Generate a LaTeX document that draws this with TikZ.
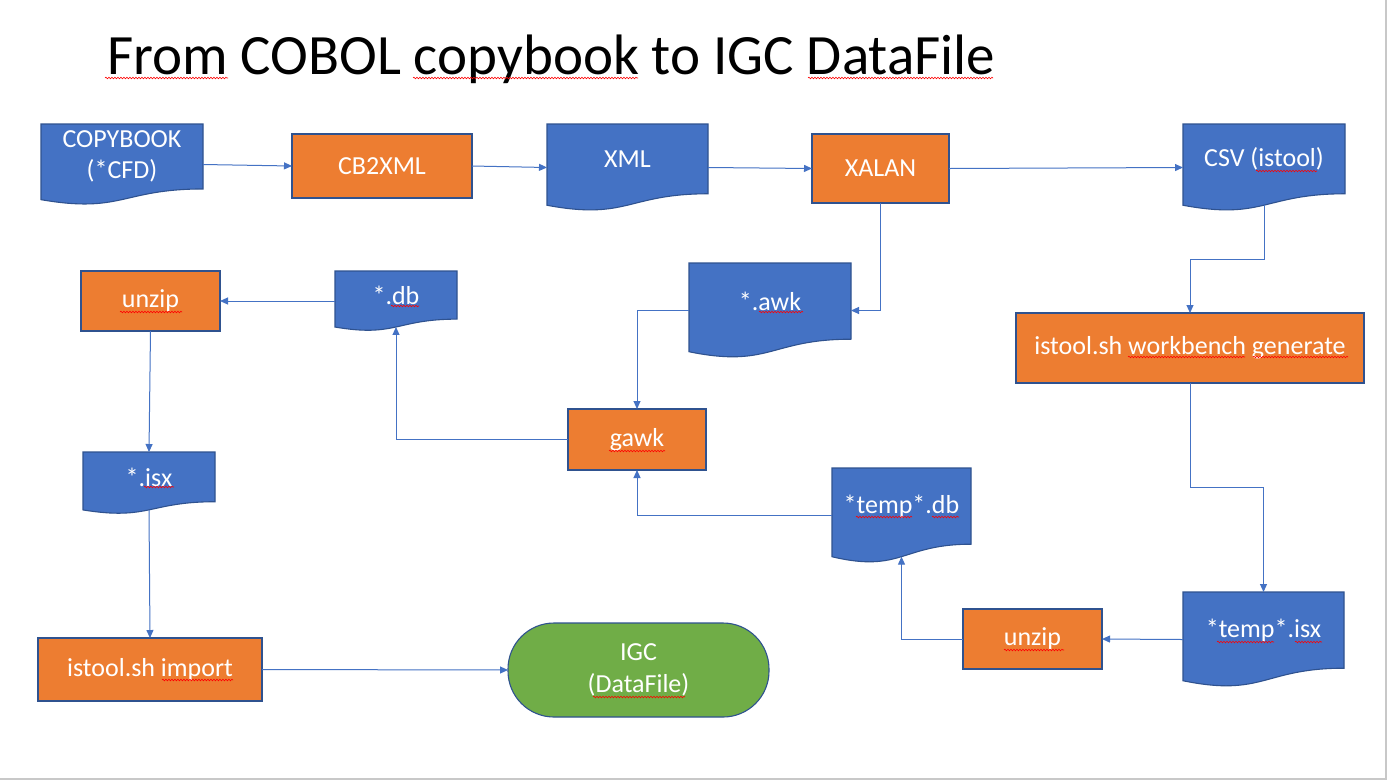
\documentclass[tikz,border=0pt]{standalone}
\usepackage{fontspec}
\setmainfont{Carlito}
\usetikzlibrary{arrows.meta,decorations.pathmorphing,calc}
\definecolor{pblue}{HTML}{4472C4}
\definecolor{pborder}{HTML}{2F528F}
\definecolor{porange}{HTML}{ED7D31}
\definecolor{pgreen}{HTML}{70AD47}
\definecolor{pframe}{HTML}{C8C8C8}
\newcommand\docshape[6]{%
  \path[docstyle] (#2,#3) -- ({#2+#4},#3) -- ({#2+#4},{#3+0.802*#5})
    .. controls ({#2+#4/2},{#3+0.802*#5}) and ({#2+#4/2},{#3+1.1075*#5}) .. (#2,{#3+0.934*#5}) -- cycle;
  \node[anchor=north west, minimum width=#4pt, minimum height=#5pt, inner sep=0pt, outer sep=0pt] (#1) at (#2,#3) {};
  \node[doctext] (#1-t) at ({#2+#4/2},{#3+0.401*#5}) {#6};
  \coordinate (#1-b) at ({#2+#4/2},{#3+0.933*#5});
}
\begin{document}
\begin{tikzpicture}[x=1pt,y=-1pt,
  docstyle/.style={fill=pblue, draw=pborder, line width=1.1pt},
  doctext/.style={text=white, align=center, font=\fontsize{26}{31}\selectfont, inner sep=0pt},
  proc/.style={rectangle, fill=porange, draw=pborder, line width=1.1pt, text=white, align=center,
     font=\fontsize{26}{31}\selectfont, inner sep=0pt, outer sep=0pt},
  term/.style={rectangle, rounded corners=46pt, fill=pgreen, draw=pborder, line width=1.1pt, text=white,
     align=center, font=\fontsize{26}{32}\selectfont, inner sep=0pt, outer sep=0pt},
  conn/.style={draw=pblue, line width=1pt, -{Triangle[length=8pt,width=7pt]}},
  squig/.style={draw=red, line width=0.6pt, decorate, decoration={snake, segment length=3pt, amplitude=0.8pt}},
]
\useasboundingbox (0,0) rectangle (1388,780);
\fill[white] (0,0) rectangle (1388,780);
\draw[pframe, line width=1.2pt] (1386,0) -- (1386,779) -- (0,779);

% title
\node[anchor=base west, inner sep=0pt, font=\fontsize{57}{60}\selectfont] (title) at (107,74) {From COBOL copybook to IGC DataFile};

% documents
\docshape{copybook}{41}{124}{162}{81}{COPYBOOK\\(*CFD)}
\docshape{xml}{547}{124}{161}{87}{XML}
\docshape{csv}{1183}{124}{162}{87}{CSV (istool)}
\docshape{db}{335}{271}{122}{60}{*.db}
\docshape{awk}{689}{263}{162}{95}{*.awk}
\docshape{isx}{83}{452}{132}{62}{*.isx}
\docshape{tempdb}{832}{468}{139}{95}{*temp*.db}
\docshape{tempisx}{1183}{592}{161}{95}{*temp*.isx}

% processes
\node[proc, minimum width=180pt, minimum height=64pt] (cb2xml) at (382,166) {CB2XML};
\node[proc, minimum width=137pt, minimum height=69pt] (xalan) at (880.5,168.5) {XALAN};
\node[proc, minimum width=348pt, minimum height=70pt] (wb) at (1190,348) {istool.sh workbench generate};
\node[proc, minimum width=139pt, minimum height=60pt] (unzipa) at (150.5,301) {unzip};
\node[proc, minimum width=138pt, minimum height=61pt] (gawk) at (637,439.5) {gawk};
\node[proc, minimum width=139pt, minimum height=60pt] (unzipb) at (1032.5,639) {unzip};
\node[proc, minimum width=224pt, minimum height=63pt] (import) at (150,669.5) {istool.sh import};
\node[term, minimum width=261pt, minimum height=94pt] (igc) at (638.5,670) {IGC\\(DataFile)};

% connectors
\draw[conn] (copybook.east) -- (cb2xml.west);
\draw[conn] (cb2xml.east) -- (xml.west);
\draw[conn] (xml.east) -- (xalan.west);
\draw[conn] (xalan.east) -- (csv.west);
\draw[conn] (xalan.south) |- (awk.east);
\draw[conn] (csv-b) |- ($(csv-b)!0.5!(wb.north)$) -| (wb.north);
\draw[conn] (wb.south) |- ($(wb.south)!0.5!(tempisx.north)$) -| (tempisx.north);
\draw[conn] (tempisx.west) -- (unzipb.east);
\draw[conn] (unzipb.west) -| (tempdb-b);
\draw[conn] (tempdb.west) -| (gawk.south);
\draw[conn] (awk.west) -| (gawk.north);
\draw[conn] (gawk.west) -| (db-b);
\draw[conn] (db.west) -- (unzipa.east);
\draw[conn] (unzipa.south) -- (isx.north);
\draw[conn] (isx-b) -- (import.north);
\draw[conn] (import.east) -- (igc.west);

% spell-check underlines
\draw[squig] (105,78) -- (228,78);
\draw[squig] (413,78) -- (638,78);
\draw[squig] (808,78) -- (993,78);
\draw[squig] (1256,171) -- (1317,171);
\draw[squig] (120,312) -- (182,312);
\draw[squig] (391,306) -- (419,306);
\draw[squig] (759,312) -- (803,312);
\draw[squig] (1128,357) -- (1245,357);
\draw[squig] (1253,357) -- (1348,357);
\draw[squig] (856,517) -- (912,517);
\draw[squig] (932,517) -- (959,517);
\draw[squig] (1004,650) -- (1064,650);
\draw[squig] (1217,642) -- (1274,642);
\draw[squig] (1295,642) -- (1322,642);
\draw[squig] (144,487) -- (174,487);
\draw[squig] (609,451) -- (665,451);
\draw[squig] (162,680) -- (233,680);
\draw[squig] (593,697) -- (685,697);
\end{tikzpicture}
\end{document}
